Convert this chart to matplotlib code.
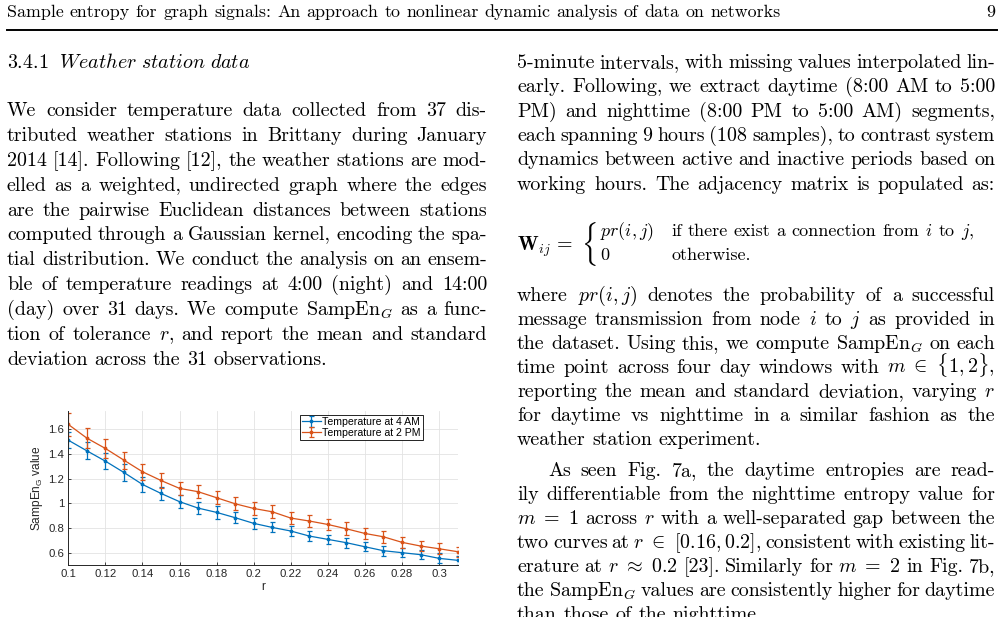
import re
import matplotlib
matplotlib.use("Agg")
import matplotlib.pyplot as plt
from matplotlib.lines import Line2D
from matplotlib.patches import PathPatch
from matplotlib.textpath import TextPath
from matplotlib.font_manager import FontProperties
from matplotlib.transforms import Affine2D

W, H = 1003, 617

# ---- chart data ----
r_vals = [0.10, 0.11, 0.12, 0.13, 0.14, 0.15, 0.16, 0.17, 0.18, 0.19, 0.20,
          0.21, 0.22, 0.23, 0.24, 0.25, 0.26, 0.27, 0.28, 0.29, 0.30, 0.31]
night_mean = [1.513, 1.427, 1.343, 1.251, 1.154, 1.081, 1.014, 0.962, 0.927, 0.884, 0.838,
              0.805, 0.776, 0.735, 0.708, 0.681, 0.648, 0.616, 0.600, 0.584, 0.554, 0.538]
night_std = [0.064, 0.070, 0.065, 0.069, 0.064, 0.053, 0.054, 0.047, 0.050, 0.045, 0.043,
             0.040, 0.040, 0.039, 0.037, 0.040, 0.036, 0.040, 0.036, 0.038, 0.040, 0.034]
day_mean = [1.641, 1.530, 1.446, 1.351, 1.257, 1.186, 1.122, 1.095, 1.046, 0.997, 0.959,
            0.932, 0.881, 0.857, 0.829, 0.794, 0.756, 0.729, 0.684, 0.654, 0.632, 0.608]
day_std = [0.095, 0.081, 0.074, 0.069, 0.064, 0.057, 0.055, 0.054, 0.054, 0.051, 0.050,
           0.051, 0.047, 0.047, 0.045, 0.051, 0.047, 0.047, 0.047, 0.043, 0.043, 0.040]
series_labels = ["Temperature at 4 AM", "Temperature at 2 PM"]
x_ticks = [0.10, 0.12, 0.14, 0.16, 0.18, 0.20, 0.22, 0.24, 0.26, 0.28, 0.30]
x_tick_labels = ["0.1", "0.12", "0.14", "0.16", "0.18", "0.2", "0.22", "0.24", "0.26", "0.28", "0.3"]
y_ticks = [0.6, 0.8, 1.0, 1.2, 1.4, 1.6]
y_tick_labels = ["0.6", "0.8", "1", "1.2", "1.4", "1.6"]

# ---- page text ----
running_head = "Sample entropy for graph signals: An approach to nonlinear dynamic analysis of data on networks"
page_no = "9"
heading = r"$\mathit{3.4.1\ \ Weather\ station\ data}$"
left_lines = [
    "We consider temperature data collected from 37 dis-",
    "tributed weather stations in Brittany during January",
    "2014 [14]. Following [12], the weather stations are mod-",
    "elled as a weighted, undirected graph where the edges",
    "are the pairwise Euclidean distances between stations",
    "computed through a Gaussian kernel, encoding the spa-",
    "tial distribution. We conduct the analysis on an ensem-",
    "ble of temperature readings at 4:00 (night) and 14:00",
    "(day) over 31 days. We compute SampEn$_G$ as a func-",
    "tion of tolerance $r$, and report the mean and standard",
    "deviation across the 31 observations.",
]
right_top = [
    "5-minute intervals, with missing values interpolated lin-",
    "early. Following, we extract daytime (8:00 AM to 5:00",
    "PM) and nighttime (8:00 PM to 5:00 AM) segments,",
    "each spanning 9 hours (108 samples), to contrast system",
    "dynamics between active and inactive periods based on",
    "working hours. The adjacency matrix is populated as:",
]
eq_lhs = r"$\mathbf{W}_{ij}\,=$"
eq_cases = ["$pr(i,j)$", "0"]
eq_conds = ["if there exist a connection from $i$ to $j$,", "otherwise."]
right_mid = [
    "where $pr(i,j)$ denotes the probability of a successful",
    "message transmission from node $i$ to $j$ as provided in",
    "the dataset. Using this, we compute SampEn$_G$ on each",
    r"time point across four day windows with $m\ \in\ \{1,2\}$,",
    "reporting the mean and standard deviation, varying $r$",
    "for daytime vs nighttime in a similar fashion as the",
    "weather station experiment.",
]
right_bottom = [
    "As seen Fig. 7a, the daytime entropies are read-",
    "ily differentiable from the nighttime entropy value for",
    r"$m\ =\ 1$ across $r$ with a well-separated gap between the",
    r"two curves at $r\ \in\ [0.16, 0.2]$, consistent with existing lit-",
    r"erature at $r\ \approx\ 0.2$ [23]. Similarly for $m\ =\ 2$ in Fig. 7b,",
    "the SampEn$_G$ values are consistently higher for daytime",
    "than those of the nighttime.",
]

plt.rcParams["mathtext.fontset"] = "cm"
plt.rcParams["mathtext.rm"] = "Liberation Sans"
plt.rcParams["font.family"] = "cmr10"
plt.rcParams["axes.formatter.use_mathtext"] = True

fig = plt.figure(figsize=(W / 100, H / 100), dpi=100)
rend = fig.canvas.get_renderer()
BODY = 14.4
EQ = 13.0
SANS = "Liberation Sans"
INK = "#262626"


def fx(x):
    return x / W


def fy(y):
    return 1 - y / H


def put_line(x0, x1, y, line, size=BODY, justify=True):
    toks = re.findall(r"(?:\$[^$]*\$|\S)+", line)
    arts = [fig.text(0, fy(y), t, fontsize=size, va="baseline") for t in toks]
    widths = [a.get_window_extent(rend).width for a in arts]
    if justify and len(toks) > 1:
        gap = (x1 - x0 - sum(widths)) / (len(toks) - 1)
    else:
        gap = size * 100 / 72 * 0.333
    x = x0
    for a, w in zip(arts, widths):
        a.set_x(fx(x))
        x += w + gap


# running head
put_line(7, 782, 17, running_head, size=12.9, justify=False)
fig.text(fx(995), fy(17), page_no, fontsize=12.9, ha="right", va="baseline")
fig.add_artist(Line2D([fx(7), fx(997)], [fy(29.5), fy(29.5)], lw=1.4, color="k"))

# left column
fig.text(fx(7), fy(68), heading, fontsize=BODY, va="baseline")
for i, ln in enumerate(left_lines):
    put_line(7, 487, 116 + 24.9 * i, ln, justify=(i < len(left_lines) - 1))

# right column
for i, ln in enumerate(right_top):
    put_line(517, 995, 68 + 24.3 * i, ln)

# equation with a stretched brace
fig.text(fx(517), fy(251), eq_lhs, fontsize=BODY, va="baseline")
brace = TextPath((0, 0), r"$\{$", size=20, prop=FontProperties(math_fontfamily="cm"))
bb = brace.get_extents()
brace_tf = (Affine2D().translate(-bb.x0, -bb.y0)
            .scale(10.5 / bb.width, 44 / bb.height)
            .translate(585, H - 266))
fig.add_artist(PathPatch(brace, transform=brace_tf, fc="k", lw=0))
for k in range(2):
    fig.text(fx(600), fy(236 + 24 * k), eq_cases[k], fontsize=EQ, va="baseline")
    put_line(671, 995, 236 + 24 * k, eq_conds[k], size=EQ, justify=False)

for i, ln in enumerate(right_mid):
    put_line(517, 995, 301 + 24.0 * i, ln, justify=(i < len(right_mid) - 1))
for i, ln in enumerate(right_bottom):
    x0 = 548 if i == 0 else 517
    put_line(x0, 995, 476 + 24.0 * i, ln, justify=(i < len(right_bottom) - 1))

# ---- the chart ----
ax = fig.add_axes([fx(68.3), fy(565), (457.6 - 68.3) / W, (565 - 411) / H])
blue, orange = "#0072BD", "#D95319"
ax.errorbar(r_vals, night_mean, yerr=night_std, color=blue, lw=0.9, marker=".", ms=3.5,
            capsize=1.8, elinewidth=0.9, capthick=0.9, label=series_labels[0])
ax.errorbar(r_vals, day_mean, yerr=day_std, color=orange, lw=0.9, marker=".", ms=3.5,
            capsize=1.8, elinewidth=0.9, capthick=0.9, label=series_labels[1])
ax.set_xlim(0.1, 0.31)
ax.set_ylim(0.5, 1.75)
ax.set_xticks(x_ticks)
ax.set_xticklabels(x_tick_labels, fontfamily=SANS, fontsize=8.2, color=INK)
ax.set_yticks(y_ticks)
ax.set_yticklabels(y_tick_labels, fontfamily=SANS, fontsize=8.2, color=INK)
ax.tick_params(direction="in", length=2.5, width=0.6, color=INK, pad=3)
ax.grid(True, color="#e3e3e3", lw=0.6)
ax.set_axisbelow(True)
for s in ("top", "right"):
    ax.spines[s].set_visible(False)
for s in ("left", "bottom"):
    ax.spines[s].set_color(INK)
    ax.spines[s].set_linewidth(0.7)
ax.set_xlabel("r", fontfamily=SANS, fontsize=8.6, color=INK, labelpad=1)
ax.set_ylabel(r"SampEn$_\mathrm{G}$ value", fontfamily=SANS, fontsize=8.6,
              color=INK, labelpad=2, math_fontfamily="custom")
leg = ax.legend(loc="upper right", bbox_to_anchor=(fx(423), fy(415)), bbox_transform=fig.transFigure,
                prop={"family": SANS, "size": 7.6}, fancybox=False, edgecolor="k", framealpha=1,
                borderpad=0.2, labelspacing=0.05, handlelength=1.8, handletextpad=0.15,
                borderaxespad=0)
leg.get_frame().set_linewidth(0.6)

fig.savefig("out.png", dpi=100)
